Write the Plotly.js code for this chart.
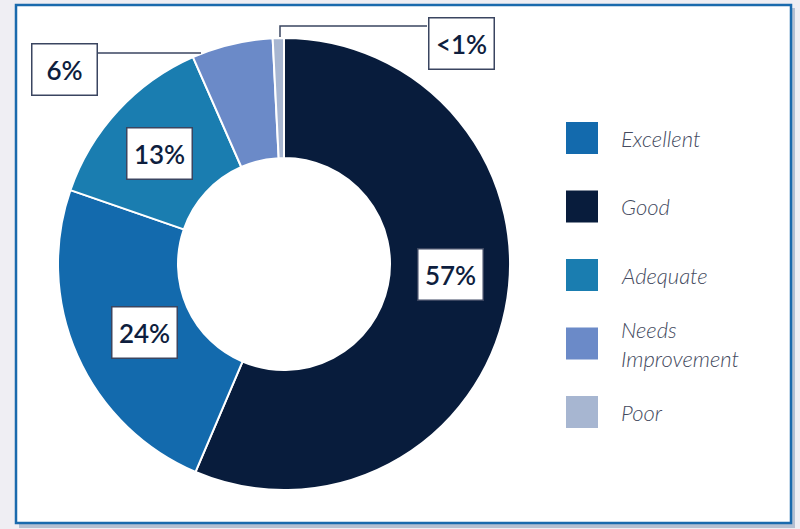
<!DOCTYPE html>
<html>
<head>
<meta charset="utf-8">
<script src="https://cdn.plot.ly/plotly-3.0.1.min.js"></script>
<style>html,body{margin:0;padding:0;background:#efeef3;}#chart{width:800px;height:529px;}</style>
</head>
<body>
<div id="chart"></div>
<script>
// ---- data (slice order, clockwise from 12 o'clock) ----
var sliceLabels = ["Good", "Excellent", "Adequate", "Needs Improvement", "Poor"];
var sliceValues = [56.4, 23.9, 13.1, 5.8, 0.8];
var sliceText   = ["57%", "24%", "13%", "6%", "<1%"];

// ---- legend order ----
var legendLabels = ["Excellent", "Good", "Adequate", "Needs<br>Improvement", "Poor"];
var legendKeys   = ["Excellent", "Good", "Adequate", "Needs Improvement", "Poor"];

// ---- styles ----
var colorMap = {
  "Excellent": "#136aad",
  "Good": "#081c3c",
  "Adequate": "#1a7db0",
  "Needs Improvement": "#6b8ac8",
  "Poor": "#a7b6d1"
};
var W = 800, H = 529;
function px(x){ return x / W; }
function py(y){ return 1 - y / H; }

// label box centres (pixels) per slice
var labelPos = [[450, 274], [144.5, 332.5], [159.5, 153.5], [64, 70], [461, 43]];

var trace = {
  type: "pie",
  labels: sliceLabels,
  values: sliceValues,
  sort: false,
  direction: "clockwise",
  rotation: 0,
  hole: 0.469,
  textinfo: "none",
  hoverinfo: "label+percent",
  showlegend: false,
  marker: { colors: sliceLabels.map(function(l){ return colorMap[l]; }), line: { color: "#ffffff", width: 2 } },
  domain: { x: [px(58), px(510)], y: [py(490), py(38)] }
};

var shapes = [
  // shadow
  { type: "rect", xref: "paper", yref: "paper", layer: "below",
    x0: px(19), x1: px(795), y0: py(8), y1: py(528),
    fillcolor: "rgba(110,135,170,0.45)", line: { width: 0 } },
  // frame
  { type: "rect", xref: "paper", yref: "paper", layer: "below",
    x0: px(16), x1: px(791), y0: py(5), y1: py(523),
    fillcolor: "#ffffff", line: { color: "#1a6aad", width: 2.5 } },
  // leader lines
  { type: "path", xref: "paper", yref: "paper",
    path: "M " + px(98) + " " + py(53) + " L " + px(201) + " " + py(53),
    line: { color: "#3a4560", width: 1.5 } },
  { type: "path", xref: "paper", yref: "paper",
    path: "M " + px(427) + " " + py(26) + " L " + px(280) + " " + py(26) + " L " + px(280) + " " + py(37),
    line: { color: "#3a4560", width: 1.5 } }
];

var annotations = [];
sliceText.forEach(function(t, i){
  annotations.push({
    xref: "paper", yref: "paper", x: px(labelPos[i][0]), y: py(labelPos[i][1]),
    xanchor: "center", yanchor: "middle", showarrow: false,
    text: t, width: 62, height: 48, align: "center", valign: "middle",
    bgcolor: "#ffffff", bordercolor: "#3a4560", borderwidth: 1.5, borderpad: 1,
    font: { family: "Lato, 'Open Sans', sans-serif", size: 26, color: "#0e1e3e", weight: 600 }
  });
});

// legend swatches + text
var legX0 = 566, legSize = 32, legY0 = 122, legStep = 68.5, legTextX = 619;
legendKeys.forEach(function(k, i){
  var top = legY0 + i * legStep;
  shapes.push({ type: "rect", xref: "paper", yref: "paper",
    x0: px(legX0), x1: px(legX0 + legSize), y0: py(top), y1: py(top + legSize),
    fillcolor: colorMap[k], line: { width: 0 } });
  annotations.push({
    xref: "paper", yref: "paper", x: px(legTextX), y: py(top + legSize / 2),
    xanchor: "left", yanchor: "middle", showarrow: false, align: "left",
    text: "<i>" + legendLabels[i] + "</i>",
    font: { family: "Lato, 'Open Sans', sans-serif", size: 22, color: "#444a5e", weight: 300 }
  });
});

var layout = {
  width: W, height: H,
  margin: { l: 0, r: 0, t: 0, b: 0 },
  paper_bgcolor: "#efeef3",
  plot_bgcolor: "#efeef3",
  showlegend: false,
  shapes: shapes,
  annotations: annotations
};

Plotly.newPlot("chart", [trace], layout, { displayModeBar: false, staticPlot: true });
</script>
</body>
</html>
